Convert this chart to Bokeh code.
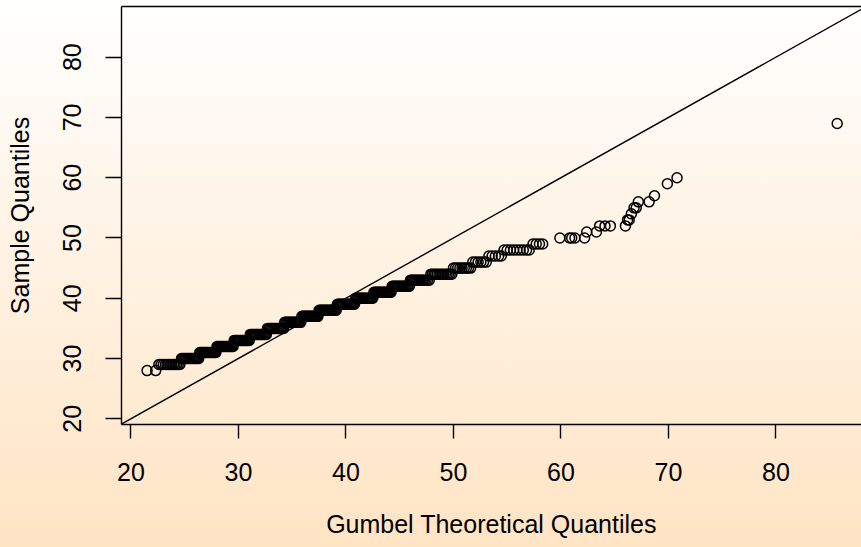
from bokeh.plotting import figure
from bokeh.models import Range1d, LinearAxis, FixedTicker, Slope, ColumnDataSource
from bokeh.embed import file_html
from bokeh.resources import INLINE

# ---- data (theoretical quantile x-values per sample level) ----
q28 = [21.5, 22.3]
q29 = [22.6, 22.8, 23.0, 23.2, 23.35, 23.5, 23.65, 23.8, 23.95, 24.1, 24.25, 24.4, 24.55]
q30 = [24.7, 24.8, 24.9, 25.0, 25.1, 25.2, 25.3, 25.4, 25.5, 25.6, 25.7, 25.8, 25.9, 26.0, 26.1, 26.2, 26.3]
q31 = [26.4, 26.5, 26.6, 26.7, 26.8, 26.9, 27.0, 27.1, 27.2, 27.3, 27.4, 27.5, 27.6, 27.7, 27.8, 27.9]
q32 = [28.0, 28.1, 28.2, 28.3, 28.4, 28.5, 28.6, 28.7, 28.8, 28.9, 29.0, 29.1, 29.2, 29.3, 29.4, 29.5]
q33 = [29.6, 29.7, 29.8, 29.9, 30.0, 30.1, 30.2, 30.3, 30.4, 30.5, 30.6, 30.7, 30.8, 30.9, 31.0]
q34 = [31.1, 31.2, 31.3, 31.4, 31.5, 31.6, 31.7, 31.8, 31.9, 32.0, 32.1, 32.2, 32.3, 32.4, 32.5, 32.6]
q35 = [32.7, 32.8, 32.9, 33.0, 33.1, 33.2, 33.3, 33.4, 33.5, 33.6, 33.7, 33.8, 33.9, 34.0, 34.1, 34.2]
q36 = [34.3, 34.4, 34.5, 34.6, 34.7, 34.8, 34.9, 35.0, 35.1, 35.2, 35.3, 35.4, 35.5, 35.6, 35.7, 35.8]
q37 = [35.9, 36.0, 36.1, 36.2, 36.3, 36.4, 36.5, 36.6, 36.7, 36.8, 36.9, 37.0, 37.1, 37.2, 37.3, 37.4]
q38 = [37.5, 37.6, 37.7, 37.8, 37.9, 38.0, 38.1, 38.2, 38.3, 38.4, 38.5, 38.6, 38.7, 38.8, 38.9, 39.0, 39.1]
q39 = [39.2, 39.3, 39.4, 39.5, 39.6, 39.7, 39.8, 39.9, 40.0, 40.1, 40.2, 40.3, 40.4, 40.5, 40.6, 40.7, 40.8]
q40 = [40.9, 41.0, 41.1, 41.2, 41.3, 41.4, 41.5, 41.6, 41.7, 41.8, 41.9, 42.0, 42.1, 42.2, 42.3, 42.4, 42.5]
q41 = [42.6, 42.7, 42.8, 42.9, 43.0, 43.1, 43.2, 43.3, 43.4, 43.5, 43.6, 43.7, 43.8, 43.9, 44.0, 44.1, 44.2]
q42 = [44.3, 44.4, 44.5, 44.6, 44.7, 44.8, 44.9, 45.0, 45.1, 45.2, 45.3, 45.4, 45.5, 45.6, 45.7, 45.8, 45.9]
q43 = [46.0, 46.1, 46.2, 46.3, 46.4, 46.5, 46.6, 46.7, 46.8, 46.9, 47.0, 47.1, 47.2, 47.3, 47.45, 47.6, 47.75]
q44 = [47.9, 48.05, 48.2, 48.35, 48.5, 48.65, 48.8, 48.95, 49.1, 49.25, 49.4, 49.55, 49.7, 49.85]
q45 = [50.0, 50.2, 50.4, 50.6, 50.8, 51.0, 51.2, 51.4, 51.6]
q46 = [51.8, 52.05, 52.3, 52.55, 52.8, 53.05]
q47 = [53.3, 53.6, 53.9, 54.2, 54.45]
q48 = [54.7, 55.0, 55.3, 55.6, 55.9, 56.2, 56.5, 56.8, 57.05]
q49 = [57.4, 57.7, 58.0, 58.3]
q50 = [59.9, 60.8, 61.0, 61.3, 62.2]
q51 = [62.4, 63.3]
q52 = [63.6, 64.1, 64.6, 66.0]
q53 = [66.2, 66.35]
q54 = [66.55]
q55 = [66.8, 67.0]
q56 = [67.2, 68.2]
q57 = [68.7]
q59 = [69.9]
q60 = [70.8]
q69 = [85.7]

sample_levels = [28, 29, 30, 31, 32, 33, 34, 35, 36, 37, 38, 39, 40, 41, 42, 43, 44,
                 45, 46, 47, 48, 49, 50, 51, 52, 53, 54, 55, 56, 57, 59, 60, 69]
theoretical_by_level = [q28, q29, q30, q31, q32, q33, q34, q35, q36, q37, q38, q39, q40,
                        q41, q42, q43, q44, q45, q46, q47, q48, q49, q50, q51, q52, q53,
                        q54, q55, q56, q57, q59, q60, q69]

x_ticks = [20, 30, 40, 50, 60, 70, 80]
y_ticks = [20, 30, 40, 50, 60, 70, 80]
x_label = "Gumbel Theoretical Quantiles"
y_label = "Sample Quantiles"

xs, ys = [], []
for lvl, qs in zip(sample_levels, theoretical_by_level):
    xs.extend(qs)
    ys.extend([lvl] * len(qs))
src = ColumnDataSource(dict(x=xs, y=ys))

FONT = "Liberation Sans"
FS = "25px"
LW = 1.4

p = figure(width=861, height=547, output_backend="svg", toolbar_location=None,
           x_range=Range1d(19.12, 87.96), y_range=Range1d(19.05, 88.41),
           min_border_left=121, min_border_right=0, min_border_top=6, min_border_bottom=123)
p.grid.visible = False
p.outline_line_color = None
p.background_fill_color = None
p.border_fill_color = None
p.styles = {"background": "linear-gradient(to bottom, #ffffff 0%, #ffe4c4 100%)"}

xa = p.xaxis[0]
xa.ticker = FixedTicker(ticks=x_ticks)
xa.axis_label = x_label
ya = p.yaxis[0]
ya.ticker = FixedTicker(ticks=y_ticks)
ya.axis_label = y_label
ya.major_label_orientation = "vertical"
for ax in (xa, ya):
    ax.axis_line_width = LW
    ax.axis_line_color = "black"
    ax.major_tick_line_width = LW
    ax.major_tick_line_color = "black"
    ax.major_tick_in = 0
    ax.minor_tick_line_color = None
    ax.major_label_text_font = FONT
    ax.major_label_text_font_size = FS
    ax.major_label_text_color = "black"
    ax.axis_label_text_font = FONT
    ax.axis_label_text_font_size = FS
    ax.axis_label_text_font_style = "normal"
    ax.axis_label_text_color = "black"
xa.major_tick_out = 14
xa.major_label_standoff = 24
xa.axis_label_standoff = 26
ya.major_tick_out = 16
ya.major_label_standoff = 24
ya.axis_label_standoff = 27

top = LinearAxis(ticker=FixedTicker(ticks=[]), axis_line_width=LW, axis_line_color="black",
                 major_tick_out=0, major_tick_in=0, minor_tick_out=0, minor_tick_in=0,
                 major_label_standoff=0, axis_label_standoff=0,
                 major_label_text_font_size="0px")
p.add_layout(top, "above")

p.add_layout(Slope(gradient=1, y_intercept=0, line_color="black", line_width=LW))
p.scatter("x", "y", source=src, marker="circle", size=10, fill_color=None,
          line_color="black", line_width=1.5)

open("out.html", "w").write(file_html(p, INLINE))
